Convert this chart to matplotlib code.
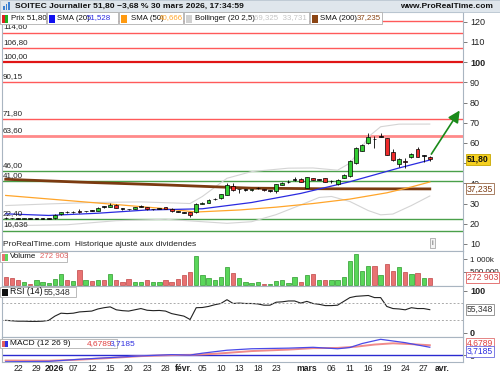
import numpy as np
import matplotlib
matplotlib.use('Agg')
import matplotlib.pyplot as plt
from matplotlib.patches import Rectangle

plt.rcParams['font.family'] = ['Liberation Sans', 'DejaVu Sans']

# trading day index: 0 = 22 déc. 2025 ... 67 = 30 mars 2026
days = np.arange(-2, 68)

opens = [22.9, 22.8, 22.7, 22.4, 22.6, 22.4, 22.4, 22.4, 22.6, 24.6,
         25.8, 25.6, 26.4, 26.1, 26.6, 26.5, 28.4, 28.5, 29.2, 27.4,
         27.2, 27.3, 28.5, 28.3, 27.1, 27.4, 28.2, 27.4, 26.0, 25.6,
         25.9, 25.8, 29.9, 30.5, 32.1, 32.6, 34.3, 38.9, 37.0, 36.7,
         36.5, 37.5, 37.0, 36.2, 36.2, 39.4, 40.6, 41.6, 42.1, 37.9,
         42.5, 41.8, 42.5, 41.0, 39.6, 42.7, 43.7, 50.2, 56.2, 59.8,
         61.9, 63.0, 62.3, 55.3, 49.8, 51.0, 52.9, 57.0, 53.6, 52.9]
highs = [23.2, 23.0, 22.9, 22.8, 22.8, 22.7, 22.7, 22.6, 24.7, 25.9,
         26.1, 26.1, 27.2, 26.4, 26.8, 28.3, 28.6, 30.4, 29.6, 27.8,
         27.4, 28.4, 29.3, 28.5, 27.4, 27.7, 28.4, 27.6, 26.2, 25.8,
         26.0, 30.2, 30.8, 32.0, 32.6, 34.9, 40.0, 40.0, 37.3, 37.0,
         37.3, 38.4, 37.2, 36.5, 39.8, 40.6, 41.6, 43.0, 42.4, 43.3,
         42.8, 42.2, 42.8, 41.6, 41.9, 44.6, 51.5, 58.2, 59.5, 64.9,
         63.2, 65.0, 62.5, 57.0, 52.3, 52.5, 54.8, 58.0, 54.0, 53.3]
lows = [22.5, 22.4, 22.3, 22.2, 22.3, 22.2, 22.2, 22.2, 22.3, 24.4,
        25.3, 25.3, 25.2, 25.8, 26.2, 26.4, 27.8, 28.2, 27.6, 27.0,
        26.9, 27.2, 28.2, 27.0, 26.9, 27.1, 27.1, 25.9, 25.6, 25.2,
        23.5, 25.5, 29.6, 30.2, 31.9, 32.4, 34.0, 36.4, 35.4, 36.4,
        36.2, 37.3, 36.2, 35.8, 35.4, 39.2, 40.2, 41.3, 40.6, 37.5,
        41.5, 41.5, 40.6, 40.4, 39.3, 42.4, 43.3, 49.5, 55.8, 59.5,
        57.6, 62.8, 53.8, 51.0, 48.2, 47.8, 52.7, 53.0, 50.7, 50.9]
closes = [22.7, 22.6, 22.5, 22.6, 22.5, 22.5, 22.5, 22.5, 24.3, 25.6,
          25.7, 25.7, 25.9, 26.2, 26.5, 28.0, 28.3, 29.4, 27.8, 27.3,
          27.1, 28.2, 28.6, 27.2, 27.2, 27.5, 27.2, 26.1, 25.9, 25.5,
          24.4, 29.8, 30.5, 31.8, 32.3, 34.6, 39.2, 36.7, 37.1, 36.8,
          37.0, 37.6, 36.5, 36.3, 39.5, 40.4, 40.7, 41.7, 40.9, 43.0,
          41.7, 41.9, 40.8, 41.1, 41.7, 44.2, 51.2, 57.4, 59.0, 63.1,
          61.8, 63.1, 54.1, 51.5, 52.0, 50.8, 54.5, 53.2, 53.78, 51.8]
volumes = [290, 250, 210, 120, 50, 210, 130, 70, 220, 420,
           210, 170, 570, 210, 160, 210, 210, 420, 210, 130,
           220, 100, 130, 210, 100, 100, 210, 100, 220, 380,
           490, 1120, 380, 250, 210, 290, 700, 480, 250, 100,
           90, 110, 50, 50, 160, 210, 90, 310, 110, 380,
           430, 180, 200, 180, 180, 290, 930, 1190, 540, 740,
           740, 380, 810, 530, 700, 490, 430, 450, 260, 273]
rsi = [30, 29, 28, 28, 27.5, 27.5, 28, 30, 40, 47,
       46, 47, 50, 51, 52, 57, 60, 62, 55, 53,
       52, 55, 58, 54, 53, 53.5, 52, 46, 43, 40,
       32, 60, 60.5, 63, 67, 70, 79, 70, 71, 70,
       70, 69, 66, 66, 73, 74, 76, 76, 71, 75,
       70, 68, 65, 65, 66, 75, 84, 87, 88, 89,
       84, 84, 63, 58, 57, 55, 60, 58, 58, 55.35]

# moving averages / bands read at a few days
sma20_days = [-2, 5, 13, 21, 30, 38, 46, 54, 62, 67]
sma20 = [24.9, 24.1, 25.2, 26.8, 27.4, 30.5, 35.0, 40.8, 47.6, 51.53]
sma50_days = [-2, 6, 14, 23, 29, 36, 42, 48, 54, 60, 64, 67]
sma50 = [34.0, 32.0, 30.0, 27.7, 25.8, 26.8, 28.2, 30.0, 32.2, 35.3, 38.2, 40.67]
sma200_days = [-2, 10, 24, 38, 50, 67]
sma200 = [42.0, 40.6, 39.2, 37.6, 37.3, 37.235]
boll_up_days = [-2, 5, 12, 20, 28, 30, 34, 38, 44, 48, 52, 54, 56, 57, 59, 62, 67]
boll_up = [29.0, 29.8, 30.5, 30.8, 30.0, 33.5, 42.5, 45.8, 47.5, 47.6, 46.5,
           50.0, 58.0, 63.0, 68.0, 69.3, 69.33]
boll_lo_days = [-2, 8, 16, 24, 30, 34, 38, 42, 46, 49, 51, 54, 57, 59, 61, 64, 67]
boll_lo = [19.0, 19.5, 21.5, 22.2, 21.0, 20.2, 21.0, 24.5, 29.3, 33.0, 33.5,
           31.0, 26.5, 24.4, 24.8, 29.0, 33.73]
macd_days = [-2, 5, 10, 15, 20, 25, 28, 30, 34, 38, 44, 48, 52, 54, 56, 59, 63, 67]
macd = [-3.2, -3.0, -2.0, -1.2, -0.4, 0.2, 0.0, 0.9, 2.3, 3.0, 3.3, 3.7, 3.0,
        3.6, 5.5, 7.5, 5.9, 3.7185]
signal_days = [-2, 5, 10, 15, 20, 25, 28, 32, 38, 44, 48, 52, 55, 58, 61, 64, 67]
signal = [-2.6, -2.7, -2.2, -1.4, -0.5, 0.0, 0.1, 0.6, 1.9, 2.6, 3.3, 3.4, 4.0,
          5.0, 5.6, 5.2, 4.6789]

red_levels = [120.5, 114.60, 106.80, 100.00, 90.15, 71.80, 63.60]
red_labels = ['', '114,60', '106,80', '100,00', '90,15', '71,80', '63,60']
green_levels = [46.00, 41.00, 22.40, 16.636]
green_labels = ['46,00', '41,00', '22,40', '16,636']

price_ticks = [10, 20, 30, 40, 50, 60, 70, 80, 90, 100, 110, 120]
price_tick_labels = ['10', '20', '30', '40', '', '60', '70', '80', '90', '100',
                     '110', '120']

tick_days = [0, 3, 6, 9, 12, 15, 18, 21, 24, 27, 30, 33, 36, 39, 42, 47, 51,
             54, 57, 60, 63, 66, 69]
tick_labels = ['22', '29', '2026', '07', '12', '15', '20', '23', '28', 'févr.',
               '05', '10', '13', '18', '23', 'mars', '06', '11', '16', '19',
               '24', '27', 'avr.']
bold_ticks = ['2026', 'févr.', 'mars', 'avr.']

W, H = 500, 375
fig = plt.figure(figsize=(5, 3.75), dpi=100)
fig.patch.set_facecolor('white')


def box(x0, y0, x1, y1):
    # pixel box -> figure fraction rect
    return [x0 / W, 1 - y1 / H, (x1 - x0) / W, (y1 - y0) / H]


edge = '#a9b5c1'
ax = fig.add_axes(box(2, 12, 463, 251))
axv = fig.add_axes(box(2, 251, 463, 286), sharex=ax)
axr = fig.add_axes(box(2, 286, 463, 337), sharex=ax)
axm = fig.add_axes(box(2, 337, 463, 362), sharex=ax)

for a in (ax, axv, axr, axm):
    for s in a.spines.values():
        s.set_color(edge)
        s.set_linewidth(0.8)
    a.yaxis.tick_right()
    a.tick_params(axis='y', length=3, width=0.6, color='#666', pad=2,
                  labelsize=6.5, labelcolor='#222')
    a.tick_params(axis='x', length=0, labelbottom=False)
ax.set_xlim(-2.6, 72.4)

o = np.array(opens)
c = np.array(closes)
hi = np.array(highs)
lo = np.array(lows)
up = c >= o

# ---- price pane
ax.set_ylim(6.5, 124.8)
for lev, lab in zip(red_levels, red_labels):
    col, lw = '#ff5a5a', 1.0
    if lev == 100.00:
        col, lw = '#e01515', 1.6
    elif lev == 63.60:
        col, lw = '#ff8a8a', 2.0
    ax.axhline(lev, color=col, lw=lw, zorder=1)
    if lab:
        ax.annotate(lab, (0.002, lev), xycoords=('axes fraction', 'data'),
                    xytext=(0, 1.5), textcoords='offset points',
                    fontsize=5.8, va='bottom', color='#222')
for lev, lab in zip(green_levels, green_labels):
    ax.axhline(lev, color='#4aa04a', lw=1.0, zorder=1)
    ax.annotate(lab, (0.002, lev), xycoords=('axes fraction', 'data'),
                xytext=(0, 1.5), textcoords='offset points',
                fontsize=5.8, va='bottom', color='#222')

ax.plot(boll_up_days, boll_up, color='#d4d4d4', lw=0.8, zorder=2)
ax.plot(boll_lo_days, boll_lo, color='#d4d4d4', lw=0.8, zorder=2)
ax.plot(sma200_days, sma200, color='#7b3a10', lw=2.0, zorder=2)
ax.plot(sma50_days, sma50, color='#ffa52a', lw=0.9, zorder=2)
ax.plot(sma20_days, sma20, color='#2a2ae0', lw=0.9, zorder=2)

ax.vlines(days, lo, hi, color='black', lw=0.6, zorder=3)
body = np.abs(c - o)
doji = body < 0.2
body_col = np.where(up, '#33cc33', '#ee2a2a')
body_col = np.where(doji, '#111111', body_col)
ax.bar(days, np.maximum(body, 0.3), bottom=np.minimum(o, c), width=0.62,
       color=body_col, edgecolor='black', linewidth=0.5, zorder=4)

ax.annotate('', xy=(72.1, 77.2), xytext=(days[-1], highs[-1]),
            arrowprops=dict(arrowstyle='-|>,head_length=0.7,head_width=0.35',
                            color='#1a8a1a', lw=1.2), zorder=5)

ax.set_yticks(price_ticks, price_tick_labels)
for t in ax.get_yticklabels():
    if t.get_text() == '100':
        t.set_fontweight('bold')
ax.text(0.002, 0.012, 'ProRealTime.com  Historique ajusté aux dividendes',
        transform=ax.transAxes, fontsize=6, color='#222', va='bottom')
ax.text(0.933, 0.018, 'i', transform=ax.transAxes, fontsize=5.5, color='#555',
        ha='center', va='bottom',
        bbox=dict(boxstyle='square,pad=0.2', fc='#f4f4f4', ec='#999', lw=0.5))

# ---- volume pane
vol_col = np.where(up, '#5ad65a', '#e87272')
vol_edge = np.where(up, '#2c9a2c', '#c04444')
axv.bar(days, volumes, width=0.7, color=vol_col, edgecolor=vol_edge,
        linewidth=0.5)
axv.set_ylim(-40, 1310)
axv.set_yticks([500, 1000], ['500 000', '1 000k'])
axv.tick_params(axis='y', labelsize=5.8)

# ---- RSI pane
axr.plot(days, rsi, color='#222', lw=0.8)
for lev in (70, 30):
    axr.axhline(lev, color='#aaaaaa', lw=0.7, ls=(0, (2, 2)))
axr.set_ylim(-9.5, 111.5)
axr.set_yticks([0, 100])
for t in axr.get_yticklabels():
    t.set_fontweight('bold')

# ---- MACD pane
axm.axhline(0, color='#2a2ad0', lw=1.0)
axm.plot(signal_days, signal, color='#f08a8a', lw=1.4)
axm.plot(macd_days, macd, color='#4a4ae8', lw=0.9)
axm.set_ylim(-3.3, 8.6)
axm.set_yticks([0])
axm.set_xticks(tick_days)
axm.set_xticklabels(tick_labels)
axm.tick_params(axis='x', labelbottom=True, length=0, labelsize=6.2, pad=1.5,
                labelcolor='#222')
for t in axm.get_xticklabels():
    if t.get_text() in bold_ticks:
        t.set_fontweight('bold')


# ---- value boxes on the right scale
def value_box(a, y, text, fc, ec, tc, bold=False, dy=0):
    a.annotate(text, (1.0087, y), xycoords=('axes fraction', 'data'),
               xytext=(0, dy), textcoords='offset points',
               fontsize=6.2, color=tc, va='center', ha='left',
               fontweight='bold' if bold else 'normal', annotation_clip=False,
               bbox=dict(boxstyle='square,pad=0.12', fc=fc, ec=ec, lw=0.6),
               zorder=10)


value_box(ax, closes[-1], '51,80', '#f5d020', '#c8a800', '#111', bold=True)
value_box(ax, sma200[-1], '37,235', 'white', '#9a6a4a', '#7b3a10')
value_box(axv, volumes[-1], '272 903', 'white', '#e06060', '#d04040')
value_box(axr, rsi[-1], '55,348', 'white', '#888', '#333')
value_box(axm, signal[-1], '4,6789', 'white', '#e07070', '#e04040', dy=1.3)
value_box(axm, macd[-1], '3,7185', 'white', '#6a6ae0', '#3030e0', dy=-2.8)

# ---- title bar and legends
fig.add_artist(Rectangle((0, 1 - 11.5 / H), 1, 11.5 / H, transform=fig.transFigure,
                         fc='#dfe6ec', ec='#b8c4cf', lw=0.6, zorder=5))
for i, hgt in enumerate([4, 6, 8]):
    fig.add_artist(Rectangle(((3 + i * 2.5) / W, 1 - 10 / H), 1.6 / W, hgt / H,
                             transform=fig.transFigure, fc='#3a7fd0', zorder=6))
fig.text(15 / W, 1 - 6 / H, 'SOITEC Journalier 51,80 −3,68 % 30 mars 2026, 17:34:59',
         fontsize=6.1, fontweight='bold', va='center', color='#111', zorder=7)
fig.text(493 / W, 1 - 6 / H, 'www.ProRealTime.com', fontsize=6.0,
         fontweight='bold', va='center', ha='right', color='#111', zorder=7)


def legend_box(x0, x1, y0, y1, swatch, parts, fs=5.7):
    fig.add_artist(Rectangle(((x0) / W, 1 - y1 / H), (x1 - x0) / W, (y1 - y0) / H,
                             transform=fig.transFigure, fc='white', ec='#b0b0b0',
                             lw=0.6, zorder=6))
    sh = min(7, y1 - y0 - 3)
    if len(swatch) == 2:
        fig.add_artist(Rectangle(((x0 + 1.5) / W, 1 - (y1 - 1.5) / H), 3 / W, sh / H,
                                 transform=fig.transFigure, fc=swatch[0], zorder=7))
        fig.add_artist(Rectangle(((x0 + 4.5) / W, 1 - (y1 - 1.5) / H), 3 / W, sh / H,
                                 transform=fig.transFigure, fc=swatch[1], zorder=7))
    else:
        fig.add_artist(Rectangle(((x0 + 1.5) / W, 1 - (y1 - 1.5) / H), 6.5 / W, sh / H,
                                 transform=fig.transFigure, fc=swatch[0], zorder=7))
    for px, txt, col in parts:
        fig.text(px / W, 1 - (y0 + y1) / 2 / H, txt, fontsize=fs, color=col,
                 va='center', zorder=8)


legend_box(0, 46, 12, 24, ['#e02020', '#20b020'], [(11, 'Prix 51,80', '#111')])
legend_box(47, 118, 12, 24, ['#1010f0'],
           [(57, 'SMA (20)', '#111'), (87, '51,528', '#2a2ae0')])
legend_box(119, 183, 12, 24, ['#ff9a10'],
           [(131, 'SMA (50)', '#111'), (159, '40,666', '#ffa52a')])
legend_box(184, 309, 12, 24, ['#d0d0d0'],
           [(195, 'Bollinger (20 2,5)', '#111'), (254, '69,325  33,731', '#c4c4c4')])
legend_box(310, 382, 12, 24, ['#8b4513'],
           [(320, 'SMA (200)', '#111'), (357, '37,235', '#8b4513')])
legend_box(0, 67, 252, 262, ['#e87272', '#5ad65a'],
           [(10, 'Volume', '#111'), (40, '272 903', '#e06060')])
legend_box(0, 76, 287, 297, ['#111111'],
           [(10, 'RSI (14)', '#111'), (44, '55,348', '#333')], fs=6.3)
legend_box(0, 117, 339, 348, ['#e06060', '#3030e0'],
           [(10, 'MACD (12 26 9)', '#111'), (87, '4,6789', '#e04040'),
            (110, '3,7185', '#3030e0')], fs=6.0)

fig.savefig('out.png', dpi=100)
